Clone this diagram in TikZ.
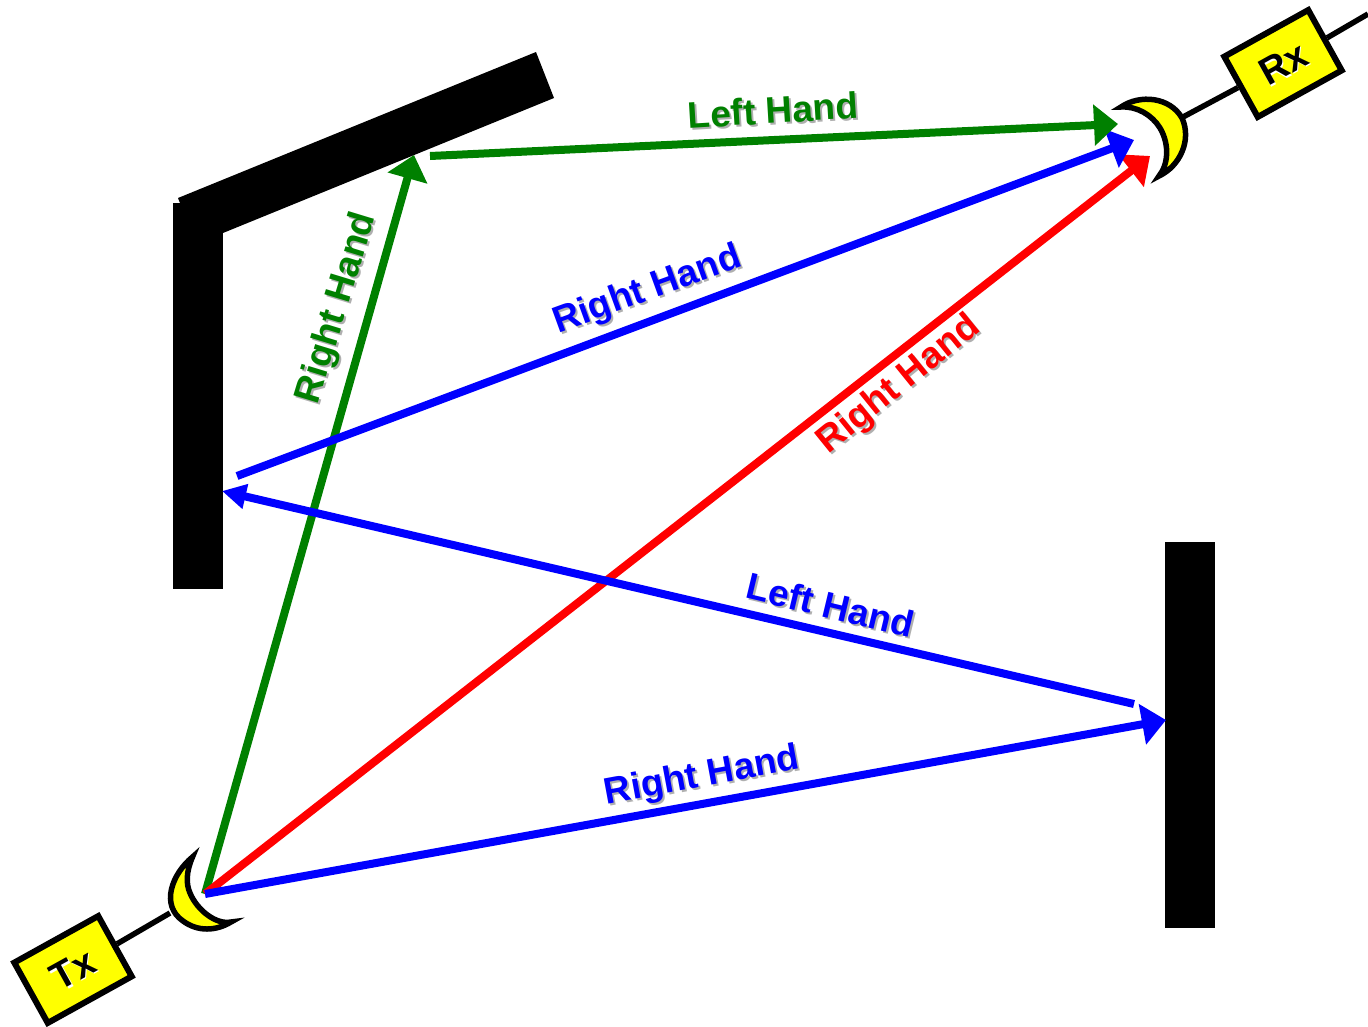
\documentclass[tikz,border=0pt]{standalone}
\usepackage{fontspec}
\setmainfont{Liberation Sans}
\usetikzlibrary{arrows.meta}
\definecolor{ggreen}{RGB}{0,128,0}
\definecolor{pureyellow}{RGB}{255,255,0}
\definecolor{pureblue}{RGB}{0,0,255}
\definecolor{purered}{RGB}{255,0,0}
\definecolor{softshadow}{RGB}{175,175,175}
\tikzset{
  wall/.style={fill=black,draw=none},
  ray/.style={line width=8pt,-{Triangle[length=24pt,width=40pt]}},
  smallray/.style={line width=8pt,-{Triangle[length=24pt,width=24pt]}},
  lab/.style={font=\fontsize{37}{37}\selectfont\bfseries,inner sep=0pt,anchor=center},
  box/.style={draw=black,fill=pureyellow,line width=6pt,minimum width=96pt,minimum height=69pt,inner sep=0pt},
  boxlab/.style={font=\fontsize{38}{38}\selectfont\bfseries,inner sep=0pt},
  wire/.style={line width=5.5pt,draw=black},
  moon/.style={draw=black,fill=pureyellow,line width=5.5pt,miter limit=20,line join=miter}
}
% name, colour, angle, position, text: a soft shadow, then the label on it
\newcommand{\shadowlabel}[5]{%
  \node[lab,text=softshadow,rotate=#3] (#1s) at ([shift={(2,2)}]#4) {#5};
  \node[lab,text=#2,rotate=#3] (#1) at (#4) {#5};}
\begin{document}
\begin{tikzpicture}[x=1pt,y=-1pt]
\useasboundingbox (0,0) rectangle (1368,1026);
% walls
\fill[wall] (178,198) -- (536,52) -- (554,98) -- (196,244) -- cycle;
\fill[wall] (173,203) rectangle (223,589);
\fill[wall] (1165,542) rectangle (1215,928);
% points
\coordinate (src) at (205,894);
\coordinate (gtop) at (414,155);
\coordinate (gstart) at (430,156);
\coordinate (gend) at (1118,124);
\coordinate (bend) at (1134,140);
\coordinate (rend) at (1150,156);
\coordinate (bstart) at (237,476);
\coordinate (bwall) at (222,491);
\coordinate (bback) at (1134,704);
\coordinate (bright) at (1166,720);
\coordinate (rxout) at (1368,14);
\coordinate (txmoon) at (170,913);
\coordinate (rxmoon) at (1183,117);
% Tx and Rx
\node[box,rotate=29] (tx) at (73,969.5) {};
\node[box,rotate=29] (rx) at (1283,63.5) {};
\node[boxlab,text=white,rotate=29] (txs) at ([shift={(1.5,1.5)}]tx) {Tx};
\node[boxlab,text=black,rotate=29] (txt) at (tx) {Tx};
\node[boxlab,text=white,rotate=29] (rxs) at ([shift={(1.5,1.5)}]rx) {Rx};
\node[boxlab,text=black,rotate=29] (rxt) at (rx) {Rx};
\draw[wire] (tx) -- (txmoon);
\draw[wire] (rxmoon) -- (rx);
\draw[wire] (rx) -- (rxout);
\path[moon] (192.5,857) .. controls (172,874) and (160,905) .. (183,921)
   .. controls (198,932) and (216,931) .. (231,922)
   .. controls (216,925) and (197,910) .. (190,893)
   .. controls (186,884) and (186,872) .. (192.5,857) -- cycle;
\path[moon] (1121,107) .. controls (1140,94) and (1170,97) .. (1182,118)
   .. controls (1192,140) and (1180,166) .. (1159,176)
   .. controls (1168,165) and (1170,145) .. (1160,128)
   .. controls (1152,115) and (1137,106) .. (1121,107) -- cycle;
% rays
\draw[ray,ggreen] (src) -- (gtop);
\draw[ray,purered] (src) -- (rend);
\draw[ray,pureblue] (src) -- (bright);
\draw[smallray,pureblue] (bback) -- (bwall);
\draw[ray,pureblue] (bstart) -- (bend);
\draw[ray,ggreen] (gstart) -- (gend);
% labels
\shadowlabel{l1}{ggreen}{3.5}{773,110}{Left Hand}
\shadowlabel{l2}{ggreen}{73}{337.5,308}{Right Hand}
\shadowlabel{l3}{pureblue}{20}{647.5,290.5}{Right Hand}
\shadowlabel{l4}{purered}{39}{899,385}{Right Hand}
\shadowlabel{l5}{pureblue}{-13.5}{831,605}{Left Hand}
\shadowlabel{l6}{pureblue}{10.5}{702,777}{Right Hand}
\end{tikzpicture}
\end{document}
